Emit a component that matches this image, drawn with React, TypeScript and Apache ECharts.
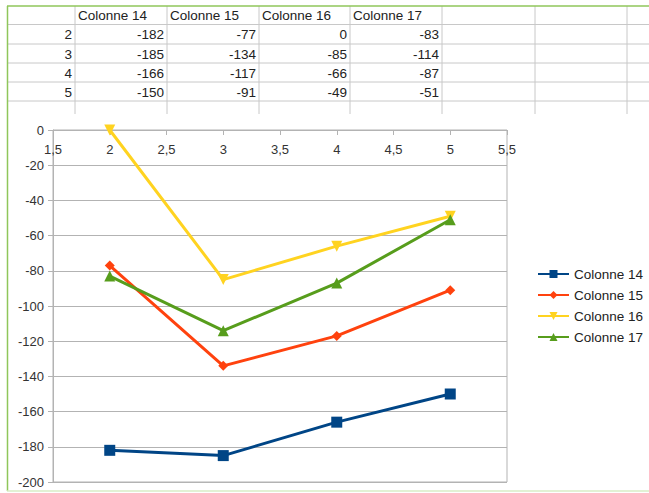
import React, { useEffect, useRef } from "react";
import * as echarts from "echarts";

const xValues = [2, 3, 4, 5];
const seriesNames = ["Colonne 14", "Colonne 15", "Colonne 16", "Colonne 17"];
const col14 = [-182, -185, -166, -150];
const col15 = [-77, -134, -117, -91];
const col16 = [0, -85, -66, -49];
const col17 = [-83, -114, -87, -51];
const seriesValues = [col14, col15, col16, col17];
const colors = ["#004586", "#ff420e", "#ffd320", "#579d1c"];
const symbols = ["rect", "diamond", "triangle", "triangle"];
const symbolRotates = [0, 0, 180, 0];
const symbolSizes = [11, 10, 11, 11];

const FONT = "Liberation Sans";
const colEdges = [7, 75, 167, 259, 350, 442, 535, 627];
const rowEdges = [6, 24.5, 44, 63, 82, 101];
const GREEN = "#8fc65a";
const CELL = "#c8c8c8";

function buildTable(): any[] {
  const els: any[] = [];
  rowEdges.forEach((y, i) => {
    if (i === 0) return;
    els.push({
      type: "line",
      shape: { x1: 8, y1: y, x2: 649, y2: y },
      style: { stroke: CELL, lineWidth: 1 },
      silent: true,
    });
  });
  colEdges.forEach((x, i) => {
    if (i === 0) return;
    els.push({
      type: "line",
      shape: { x1: x, y1: 6, x2: x, y2: 114 },
      style: { stroke: CELL, lineWidth: 1 },
      silent: true,
    });
  });
  els.push({
    type: "line",
    shape: { x1: 7, y1: 6, x2: 649, y2: 6 },
    style: { stroke: GREEN, lineWidth: 1.5 },
    silent: true,
  });
  els.push({
    type: "line",
    shape: { x1: 7.5, y1: 6, x2: 7.5, y2: 491 },
    style: { stroke: GREEN, lineWidth: 1.5 },
    silent: true,
  });
  els.push({
    type: "line",
    shape: { x1: 7, y1: 491, x2: 649, y2: 491 },
    style: { stroke: "#d9ecc6", lineWidth: 1.5 },
    silent: true,
  });
  seriesNames.forEach((name, i) => {
    els.push({
      type: "text",
      x: colEdges[i + 1] + 3,
      y: (rowEdges[0] + rowEdges[1]) / 2 + 0.5,
      style: {
        text: name,
        font: `13.5px "${FONT}"`,
        fill: "#222",
        textAlign: "left",
        textVerticalAlign: "middle",
      },
      silent: true,
    });
  });
  xValues.forEach((xv, r) => {
    const cy = (rowEdges[r + 1] + rowEdges[r + 2]) / 2 + 0.5;
    els.push({
      type: "text",
      x: colEdges[1] - 3,
      y: cy,
      style: {
        text: String(xv),
        font: `13.5px "${FONT}"`,
        fill: "#222",
        textAlign: "right",
        textVerticalAlign: "middle",
      },
      silent: true,
    });
    seriesValues.forEach((vals, c) => {
      els.push({
        type: "text",
        x: colEdges[c + 2] - 3,
        y: cy,
        style: {
          text: String(vals[r]),
          font: `13.5px "${FONT}"`,
          fill: "#222",
          textAlign: "right",
          textVerticalAlign: "middle",
        },
        silent: true,
      });
    });
  });
  return els;
}

export default function App() {
  const ref = useRef<HTMLDivElement>(null);
  useEffect(() => {
    document.body.style.margin = "0";
    if (!ref.current) return;
    const chart = echarts.init(ref.current, undefined, { renderer: "svg" });
    const option: any = {
      animation: false,
      backgroundColor: "#ffffff",
      textStyle: { fontFamily: FONT },
      grid: {
        left: 53,
        top: 130,
        width: 454,
        height: 352,
        show: true,
        borderColor: "#b3b3b3",
        borderWidth: 1,
        backgroundColor: "transparent",
      },
      xAxis: {
        type: "value",
        position: "top",
        min: 1.5,
        max: 5.5,
        interval: 0.5,
        axisLine: { show: true, onZero: false, lineStyle: { color: "#b3b3b3", width: 1 } },
        axisTick: { show: true, inside: true, length: 5, lineStyle: { color: "#b3b3b3" } },
        axisLabel: {
          inside: true,
          margin: 13,
          color: "#333",
          fontSize: 13,
          fontFamily: FONT,
          showMinLabel: true,
          showMaxLabel: true,
          formatter: (v: number) => String(v).replace(".", ","),
        },
        splitLine: { show: false },
      },
      yAxis: {
        type: "value",
        min: -200,
        max: 0,
        interval: 20,
        axisLine: { show: true, onZero: false, lineStyle: { color: "#b3b3b3", width: 1 } },
        axisTick: { show: true, length: 5, lineStyle: { color: "#b3b3b3" } },
        axisLabel: { margin: 9, color: "#333", fontSize: 13, fontFamily: FONT },
        splitLine: { show: true, lineStyle: { color: "#b3b3b3", width: 1 } },
      },
      legend: {
        orient: "vertical",
        left: 532,
        top: 262,
        itemWidth: 31,
        itemHeight: 10,
        itemGap: 7,
        textStyle: { fontSize: 13.5, color: "#222", fontFamily: FONT },
        data: seriesNames,
      },
      series: seriesNames.map((name, i) => ({
        name,
        type: "line",
        data: xValues.map((x, j) => [x, seriesValues[i][j]]),
        symbol: symbols[i],
        symbolRotate: symbolRotates[i],
        symbolSize: symbolSizes[i],
        showAllSymbol: true,
        lineStyle: { color: colors[i], width: 3 },
        itemStyle: { color: colors[i] },
        clip: false,
      })),
      graphic: buildTable(),
    };
    chart.setOption(option);
    return () => chart.dispose();
  }, []);
  return <div ref={ref} style={{ width: 649, height: 493 }} />;
}
